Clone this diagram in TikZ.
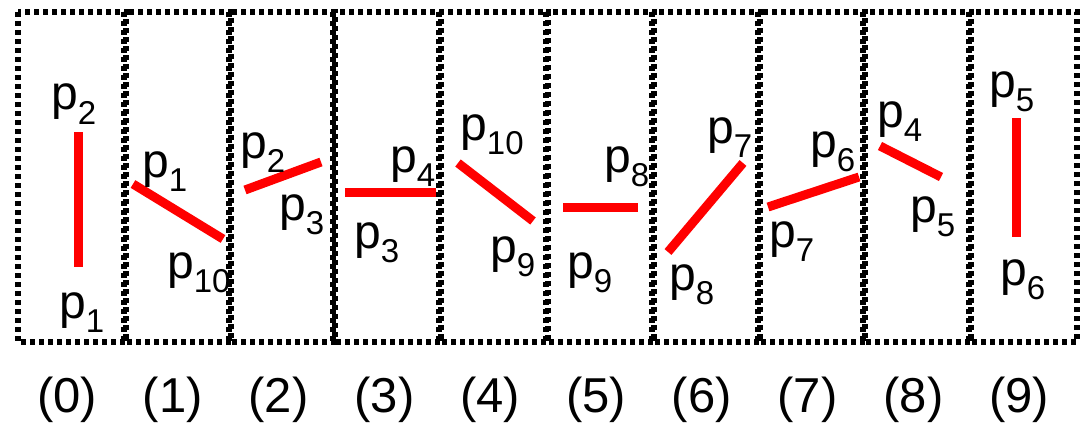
\documentclass[tikz,border=0pt]{standalone}
\usepackage{fontspec}
\setmainfont{Liberation Sans}
\newcommand\plab[1]{p\raisebox{-14pt}{\fontsize{33}{33}\selectfont #1}}
\tikzset{
  frame/.style={line width=5.4pt, dash pattern=on 5pt off 4pt, black},
  seg/.style={line width=9pt, red, line cap=butt},
  lab/.style={inner sep=0pt, anchor=base west, font=\fontsize{48}{48}\selectfont},
  caplabel/.style={inner sep=0pt, anchor=base, font=\fontsize{49}{49}\selectfont},
}
\begin{document}
\begin{tikzpicture}[x=1pt,y=-1pt]
\useasboundingbox (0,0) rectangle (1084,428);
% frames
\foreach \a/\b in {18/126,124/231,229/335,333/441,439/548,546/654,652/760,758/865,863/971,969/1077}{
  \draw[frame] (\a,12) rectangle (\b,342);
}
% segment end points
\coordinate (a0) at (78,132);   \coordinate (b0) at (78,267);
\coordinate (a1) at (133,184);  \coordinate (b1) at (223,239);
\coordinate (a2) at (245,190);  \coordinate (b2) at (321,162);
\coordinate (a3) at (345,192);  \coordinate (b3) at (436,192);
\coordinate (a4) at (458,163);  \coordinate (b4) at (533,221);
\coordinate (a5) at (563,207);  \coordinate (b5) at (638,207);
\coordinate (a6) at (668,252);  \coordinate (b6) at (743,163);
\coordinate (a7) at (768,207);  \coordinate (b7) at (859,177);
\coordinate (a8) at (880,146);  \coordinate (b8) at (941,177);
\coordinate (a9) at (1016,118); \coordinate (b9) at (1016,237);
\foreach \i in {0,...,9}{ \draw[seg] (a\i) -- (b\i); }
% point labels
\node[lab] (l0a) at (51,110)  {\plab{2}};
\node[lab] (l0b) at (59,318)  {\plab{1}};
\node[lab] (l1a) at (142,177) {\plab{1}};
\node[lab] (l1b) at (167,278) {\plab{10}};
\node[lab] (l2a) at (240,158) {\plab{2}};
\node[lab] (l2b) at (279,220) {\plab{3}};
\node[lab] (l3a) at (390,172) {\plab{4}};
\node[lab] (l3b) at (354,248) {\plab{3}};
\node[lab] (l4a) at (460,140) {\plab{10}};
\node[lab] (l4b) at (490,262) {\plab{9}};
\node[lab] (l5a) at (604,172) {\plab{8}};
\node[lab] (l5b) at (567,278) {\plab{9}};
\node[lab] (l6a) at (707,143) {\plab{7}};
\node[lab] (l6b) at (669,290) {\plab{8}};
\node[lab] (l7a) at (810,157) {\plab{6}};
\node[lab] (l7b) at (769,247) {\plab{7}};
\node[lab] (l8a) at (877,127) {\plab{4}};
\node[lab] (l8b) at (910,222) {\plab{5}};
\node[lab] (l9a) at (989,97)  {\plab{5}};
\node[lab] (l9b) at (1000,285) {\plab{6}};
% captions
\foreach \i in {0,...,9}{
  \node[caplabel] (c\i) at ({67+105.8*\i},412) {(\i)};
}
\end{tikzpicture}
\end{document}
